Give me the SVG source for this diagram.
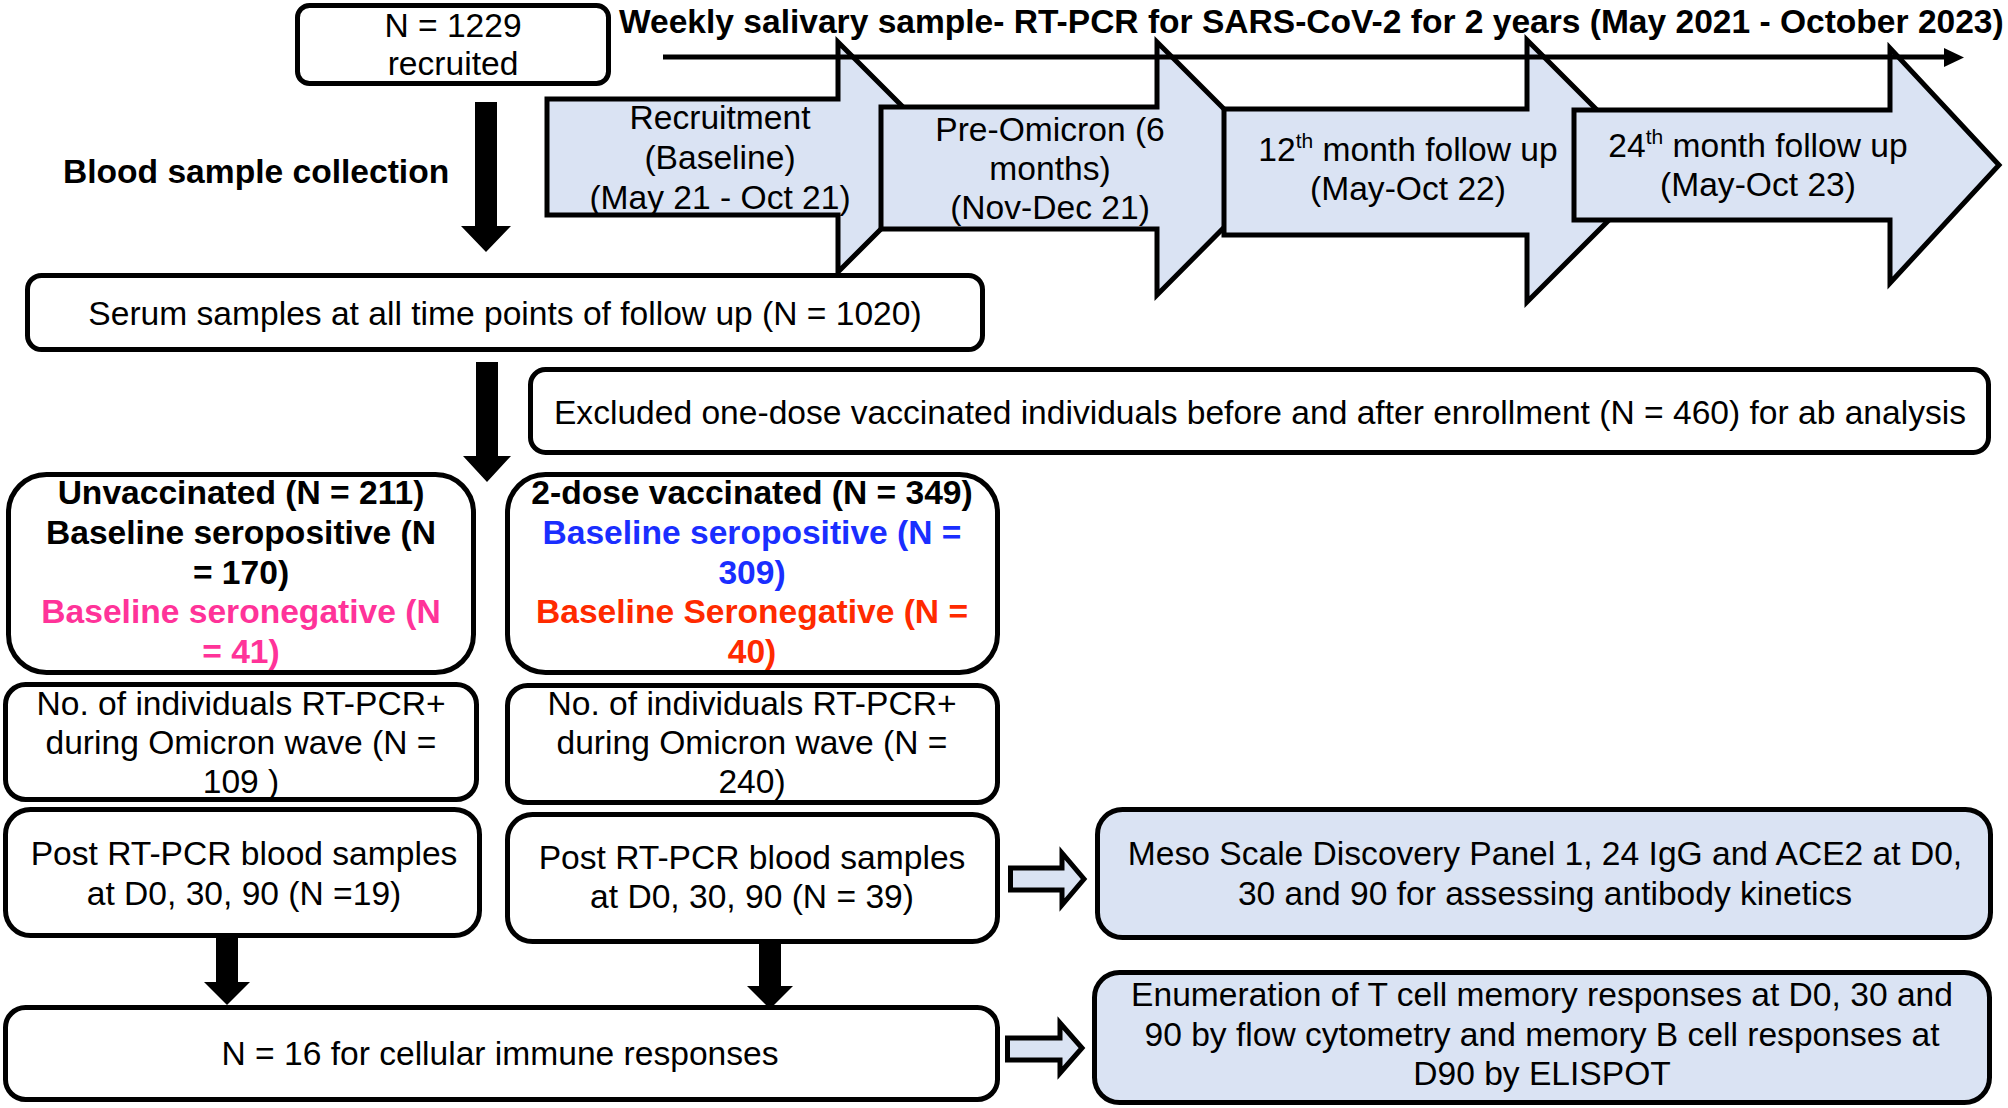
<svg xmlns="http://www.w3.org/2000/svg" width="2008" height="1108" viewBox="0 0 2008 1108">
<style>
.box{fill:#ffffff;stroke:#000;stroke-width:5}
.bbox{fill:#DAE3F3;stroke:#000;stroke-width:5}
.blk{fill:#DAE3F3;stroke:#000;stroke-width:5;stroke-linejoin:miter}
.t{font-family:"Liberation Sans",Arial,Helvetica,sans-serif;font-size:33.6px;fill:#000;text-anchor:middle}
.b{font-weight:bold}
.pk{fill:#FF3399}
.bl{fill:#1A2EFF}
.rd{fill:#FF2A00}
.sup{font-size:21px}
.solid{fill:#000;stroke:none}
</style>
<rect width="2008" height="1108" fill="#ffffff"/>

<g id="timeline">
  <g id="arrow-recruitment">
    <polygon class="blk" points="547,99 838,99 838,42 953,157 838,272 838,215 547,215"/>
    <text class="t" x="720" y="129">Recruitment</text>
    <text class="t" x="720" y="169">(Baseline)</text>
    <text class="t" x="720" y="209">(May 21 - Oct 21)</text>
  </g>
  <g id="arrow-preomicron">
    <polygon class="blk" points="881,107 1157,107 1157,42 1283,168 1157,295 1157,229 881,229"/>
    <text class="t" x="1050" y="141">Pre-Omicron (6</text>
    <text class="t" x="1050" y="180">months)</text>
    <text class="t" x="1050" y="219">(Nov-Dec 21)</text>
  </g>
  <g id="arrow-12month">
    <polygon class="blk" points="1224,109 1527,109 1527,40 1658,171 1527,302 1527,235 1224,235"/>
    <text class="t" x="1408" y="161">12<tspan class="sup" dy="-13">th</tspan><tspan dy="13"> month follow up</tspan></text>
    <text class="t" x="1408" y="200">(May-Oct 22)</text>
  </g>
  <g id="arrow-24month">
    <polygon class="blk" points="1574,110 1890,110 1890,48 1999,165 1890,283 1890,220 1574,220"/>
    <text class="t" x="1758" y="157">24<tspan class="sup" dy="-13">th</tspan><tspan dy="13"> month follow up</tspan></text>
    <text class="t" x="1758" y="196">(May-Oct 23)</text>
  </g>
</g>

<g id="title">
  <text class="t b" x="619" y="33" style="text-anchor:start;font-size:33.55px">Weekly salivary sample- RT-PCR for SARS-CoV-2 for 2 years (May 2021 - October 2023)</text>
</g>

<g id="recruited">
  <rect class="box" x="297.5" y="5.5" width="311" height="78" rx="12"/>
  <text class="t" x="453" y="37">N = 1229</text>
  <text class="t" x="453" y="75">recruited</text>
</g>

<g id="blood-label">
  <text class="t b" x="63" y="183" style="text-anchor:start">Blood sample collection</text>
</g>

<g id="serum">
  <rect class="box" x="27.5" y="275.5" width="955" height="74" rx="14"/>
  <text class="t" x="505" y="325">Serum samples at all time points of follow up (N = 1020)</text>
</g>

<g id="excluded">
  <rect class="box" x="530.5" y="369.5" width="1458" height="83" rx="15"/>
  <text class="t" x="1260" y="424">Excluded one-dose vaccinated individuals before and after enrollment (N = 460) for ab analysis</text>
</g>

<g id="unvaccinated">
  <rect class="box" x="8.5" y="474.5" width="465" height="198" rx="38"/>
  <text class="t b" x="241" y="504">Unvaccinated (N = 211)</text>
  <text class="t b" x="241" y="544">Baseline seropositive (N</text>
  <text class="t b" x="241" y="584">= 170)</text>
  <text class="t b pk" x="241" y="623">Baseline seronegative (N</text>
  <text class="t b pk" x="241" y="663">= 41)</text>
</g>

<g id="vaccinated">
  <rect class="box" x="507.5" y="474.5" width="490" height="198" rx="38"/>
  <text class="t b" x="752" y="504">2-dose vaccinated (N = 349)</text>
  <text class="t b bl" x="752" y="544">Baseline seropositive (N =</text>
  <text class="t b bl" x="752" y="584">309)</text>
  <text class="t b rd" x="752" y="623">Baseline Seronegative (N =</text>
  <text class="t b rd" x="752" y="663">40)</text>
</g>

<g id="rtpcr-unvacc">
  <rect class="box" x="5.5" y="684.5" width="471" height="115" rx="20"/>
  <text class="t" x="241" y="715">No. of individuals RT-PCR+</text>
  <text class="t" x="241" y="754">during Omicron wave (N =</text>
  <text class="t" x="241" y="793">109 )</text>
</g>

<g id="rtpcr-vacc">
  <rect class="box" x="507.5" y="685.5" width="490" height="117" rx="20"/>
  <text class="t" x="752" y="715">No. of individuals RT-PCR+</text>
  <text class="t" x="752" y="754">during Omicron wave (N =</text>
  <text class="t" x="752" y="793">240)</text>
</g>

<g id="post-unvacc">
  <rect class="box" x="5.5" y="809.5" width="474" height="126" rx="25"/>
  <text class="t" x="244" y="865">Post RT-PCR blood samples</text>
  <text class="t" x="244" y="905">at D0, 30, 90 (N =19)</text>
</g>

<g id="post-vacc">
  <rect class="box" x="507.5" y="814.5" width="490" height="127" rx="25"/>
  <text class="t" x="752" y="869">Post RT-PCR blood samples</text>
  <text class="t" x="752" y="908">at D0, 30, 90 (N = 39)</text>
</g>

<g id="cellular">
  <rect class="box" x="5.5" y="1007.5" width="992" height="92" rx="20"/>
  <text class="t" x="500" y="1065">N = 16 for cellular immune responses</text>
</g>

<g id="meso">
  <rect class="bbox" x="1097.5" y="809.5" width="893" height="128" rx="25"/>
  <text class="t" x="1545" y="865">Meso Scale Discovery Panel 1, 24 IgG and ACE2 at D0,</text>
  <text class="t" x="1545" y="905">30 and 90 for assessing antibody kinetics</text>
</g>

<g id="enumeration">
  <rect class="bbox" x="1094.5" y="972.5" width="895" height="130" rx="25"/>
  <text class="t" x="1542" y="1006">Enumeration of T cell memory responses at D0, 30 and</text>
  <text class="t" x="1542" y="1046">90 by flow cytometry and memory B cell responses at</text>
  <text class="t" x="1542" y="1085">D90 by ELISPOT</text>
</g>

<g id="connectors">
  <line x1="663" y1="57" x2="1948" y2="57" stroke="#000" stroke-width="5"/>
  <polygon class="solid" points="1944,48 1964,57.5 1944,67"/>
  <polygon class="solid" points="475,102 497,102 497,226 511,226 486,252 461,226 475,226"/>
  <polygon class="solid" points="476,362 498,362 498,456 511,456 487,482 463,456 476,456"/>
  <polygon class="solid" points="216,936 238,936 238,982 250,982 227,1005 204,982 216,982"/>
  <polygon class="solid" points="759,941 781,941 781,986 793,986 770,1009 747,986 759,986"/>
  <path class="blk" d="M1010.5,868 H1062 V853 L1084,879 L1062,905 V890 H1010.5 Z"/>
  <path class="blk" d="M1007.5,1038 H1060 V1023 L1082,1048 L1060,1073 V1060 H1007.5 Z"/>
</g>
</svg>
